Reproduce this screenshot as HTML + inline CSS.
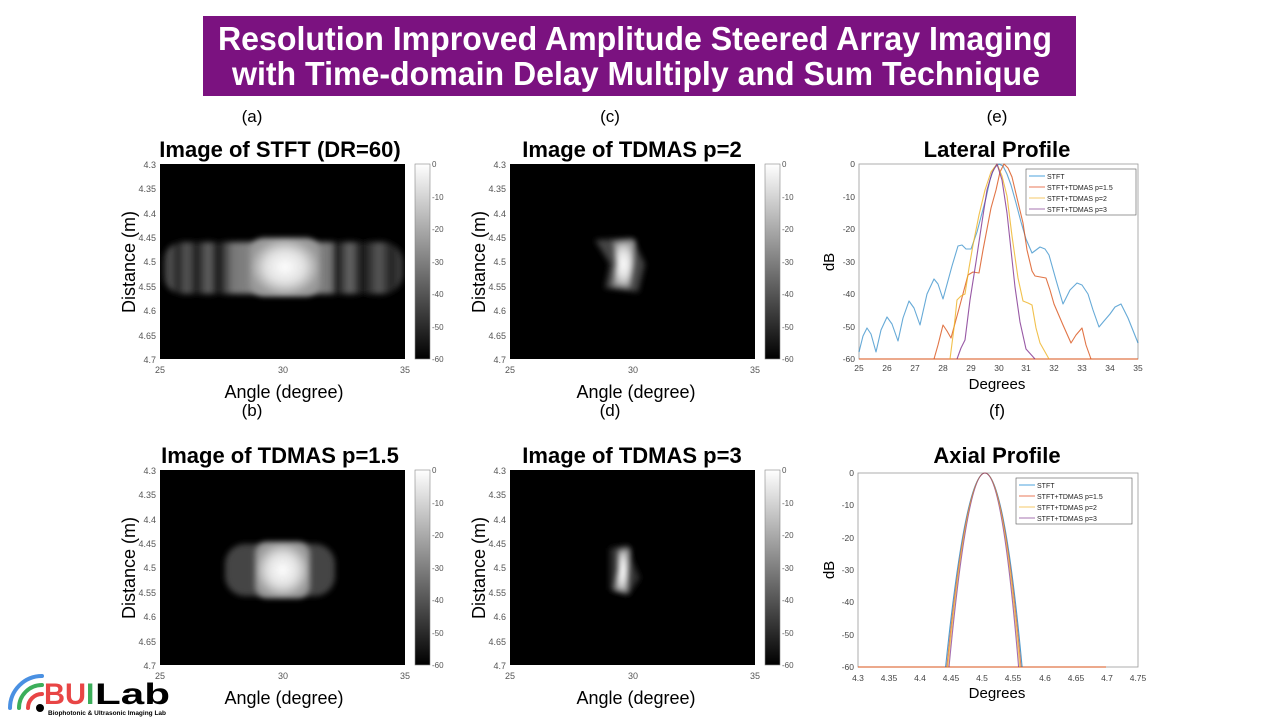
<!DOCTYPE html>
<html><head><meta charset="utf-8"><style>
html,body{margin:0;padding:0;background:#fff;width:1280px;height:720px;overflow:hidden}
svg{display:block}
</style></head><body>
<svg width="1280" height="720" viewBox="0 0 1280 720" xmlns="http://www.w3.org/2000/svg" font-family="Liberation Sans, sans-serif">
<defs>
<filter id="b3" x="-50%" y="-50%" width="200%" height="200%"><feGaussianBlur stdDeviation="3"/></filter>
<linearGradient id="cb" x1="0" y1="0" x2="0" y2="1"><stop offset="0" stop-color="#fff"/><stop offset="1" stop-color="#000"/></linearGradient>
<radialGradient id="core"><stop offset="0" stop-color="#fff"/><stop offset="0.55" stop-color="#e0e0e0"/><stop offset="1" stop-color="#999"/></radialGradient>
<linearGradient id="side" x1="0" y1="0" x2="1" y2="0">
<stop offset="0" stop-color="#222"/><stop offset="0.03" stop-color="#555"/><stop offset="0.06" stop-color="#222"/><stop offset="0.1" stop-color="#5a5a5a"/><stop offset="0.14" stop-color="#1a1a1a"/><stop offset="0.19" stop-color="#666"/><stop offset="0.23" stop-color="#111"/><stop offset="0.29" stop-color="#777"/><stop offset="0.5" stop-color="#999"/><stop offset="0.7" stop-color="#777"/><stop offset="0.72" stop-color="#111"/><stop offset="0.78" stop-color="#6a6a6a"/><stop offset="0.83" stop-color="#111"/><stop offset="0.9" stop-color="#5a5a5a"/><stop offset="0.95" stop-color="#222"/><stop offset="1" stop-color="#444"/></linearGradient>
</defs>
<!-- Banner -->
<rect x="203" y="16" width="873" height="80" fill="#7b1280"/>
<text x="635" y="50" text-anchor="middle" fill="#fff" font-size="33" font-weight="bold" textLength="834" lengthAdjust="spacingAndGlyphs">Resolution Improved  Amplitude Steered Array Imaging</text>
<text x="636" y="85" text-anchor="middle" fill="#fff" font-size="33" font-weight="bold" textLength="808" lengthAdjust="spacingAndGlyphs">with Time-domain Delay Multiply and Sum Technique</text>

<g font-size="17" fill="#000" text-anchor="middle">
<text x="252" y="122">(a)</text><text x="610" y="122">(c)</text><text x="997" y="122">(e)</text>
<text x="252" y="416">(b)</text><text x="610" y="416">(d)</text><text x="997" y="416">(f)</text>
</g>
<g font-size="22" font-weight="bold" text-anchor="middle" fill="#000">
<text x="280" y="157">Image of STFT (DR=60)</text>
<text x="632" y="157">Image of TDMAS p=2</text>
<text x="997" y="157">Lateral Profile</text>
<text x="280" y="463">Image of TDMAS p=1.5</text>
<text x="632" y="463">Image of TDMAS p=3</text>
<text x="997" y="463">Axial Profile</text>
</g>

<!-- image panels -->
<g>
<rect x="160" y="164" width="245" height="195" fill="#000"/>
<svg x="160" y="164" width="245" height="195" overflow="hidden">
<rect x="3" y="78" width="240" height="52" rx="20" fill="url(#side)" filter="url(#b3)"/>
<rect x="90" y="74" width="70" height="58" rx="14" fill="url(#core)" filter="url(#b3)"/>
</svg>
</g>
<g>
<rect x="160" y="470" width="245" height="195" fill="#000"/>
<svg x="160" y="470" width="245" height="195" overflow="hidden">
<rect x="65" y="74" width="110" height="52" rx="20" fill="#444" filter="url(#b3)"/>
<rect x="95" y="72" width="55" height="56" rx="12" fill="url(#core)" filter="url(#b3)"/>
</svg>
</g>
<g>
<rect x="510" y="164" width="245" height="195" fill="#000"/>
<svg x="510" y="164" width="245" height="195" overflow="hidden">
<polygon points="85,76 122,74 130,90 135,100 128,128 95,124 100,100" fill="#444" filter="url(#b3)"/>
<polygon points="103,78 125,76 124,100 120,124 102,122 106,100" fill="url(#core)" filter="url(#b3)"/>
</svg>
</g>
<g>
<rect x="510" y="470" width="245" height="195" fill="#000"/>
<svg x="510" y="470" width="245" height="195" overflow="hidden">
<polygon points="100,78 118,75 122,90 130,108 118,125 100,120" fill="#333" filter="url(#b3)"/>
<polygon points="108,80 120,78 119,100 118,123 104,120 108,100" fill="url(#core)" filter="url(#b3)"/>
</svg>
</g>

<g font-size="9" fill="#555" text-anchor="end">
<g id="yt1">
<text x="156" y="168">4.3</text><text x="156" y="192">4.35</text><text x="156" y="217">4.4</text><text x="156" y="241">4.45</text><text x="156" y="265">4.5</text><text x="156" y="290">4.55</text><text x="156" y="314">4.6</text><text x="156" y="339">4.65</text><text x="156" y="363">4.7</text>
</g>
<use href="#yt1" x="350"/><use href="#yt1" y="306"/><use href="#yt1" x="350" y="306"/>
</g>
<g font-size="9" fill="#555" text-anchor="middle" id="xt1">
<text x="160" y="373">25</text><text x="283" y="373">30</text><text x="405" y="373">35</text>
</g>
<use href="#xt1" x="350"/><use href="#xt1" y="306"/><use href="#xt1" x="350" y="306"/>

<g id="cbg">
<rect x="415" y="164" width="15" height="195" fill="url(#cb)" stroke="#888" stroke-width="0.6"/>
<g font-size="8" fill="#555"><text x="432" y="167">0</text><text x="432" y="200">-10</text><text x="432" y="232">-20</text><text x="432" y="265">-30</text><text x="432" y="297">-40</text><text x="432" y="330">-50</text><text x="432" y="362">-60</text></g>
</g>
<use href="#cbg" x="350"/><use href="#cbg" y="306"/><use href="#cbg" x="350" y="306"/>

<g font-size="18" fill="#000" text-anchor="middle">
<text x="284" y="398">Angle (degree)</text><text x="636" y="398">Angle (degree)</text>
<text x="284" y="704">Angle (degree)</text><text x="636" y="704">Angle (degree)</text>
<text transform="translate(135,262) rotate(-90)">Distance (m)</text>
<text transform="translate(485,262) rotate(-90)">Distance (m)</text>
<text transform="translate(135,568) rotate(-90)">Distance (m)</text>
<text transform="translate(485,568) rotate(-90)">Distance (m)</text>
</g>

<!-- Lateral profile -->
<rect x="859" y="164" width="279" height="195" fill="#fff" stroke="#999" stroke-width="0.8"/>
<g font-size="8.5" fill="#444" text-anchor="end">
<text x="855" y="167">0</text><text x="855" y="200">-10</text><text x="855" y="232">-20</text><text x="855" y="265">-30</text><text x="855" y="297">-40</text><text x="855" y="330">-50</text><text x="855" y="362">-60</text>
</g>
<g font-size="8.5" fill="#444" text-anchor="middle">
<text x="859" y="371">25</text><text x="887" y="371">26</text><text x="915" y="371">27</text><text x="943" y="371">28</text><text x="971" y="371">29</text><text x="999" y="371">30</text><text x="1026" y="371">31</text><text x="1054" y="371">32</text><text x="1082" y="371">33</text><text x="1110" y="371">34</text><text x="1138" y="371">35</text>
</g>
<g fill="none" stroke-width="1.1" stroke-linejoin="round">
<polyline stroke="#d95319" points="859,359 1138,359"/>
<polyline stroke="#0072bd" stroke-opacity="0.6" points="859,352 863,336 867,328 871,334 876,352 881,330 887,317 892,324 898,341 903,318 909,301 914,308 920,325 927,294 934,279 938,284 943,299 952,266 958,246 962,245 966,249 971,249 977,232 982,213 986,198 990,180 994,168 999,164 1003,166 1007,174 1011,185 1016,203 1021,222 1026,239 1032,253 1036,250 1040,247 1045,249 1049,255 1056,280 1063,304 1070,290 1077,283 1082,285 1088,294 1093,310 1099,327 1104,321 1110,314 1115,307 1121,304 1128,318 1138,343"/>
<polyline stroke="#d95319" stroke-opacity="0.8" points="934,359 938,345 943,325 947,331 951,338 960,305 968,275 973,272 979,273 983,250 987,229 991,208 996,190 1000,172 1004,164 1008,168 1012,177 1017,198 1023,223 1027,250 1032,271 1035,276 1046,278 1050,290 1054,304 1063,325 1071,343 1076,335 1082,328 1086,345 1091,359"/>
<polyline stroke="#edb120" stroke-opacity="0.8" points="950,359 954,328 957,300 961,296 965,294 969,268 973,245 979,215 985,190 991,172 997,164 1002,176 1007,196 1012,236 1018,278 1023,301 1028,303 1032,305 1036,328 1040,343 1049,359"/>
<polyline stroke="#7e2f8e" stroke-opacity="0.8" points="957,359 961,348 965,340 970,300 976,262 982,222 987,190 992,173 997,164 1002,180 1007,213 1011,250 1015,287 1020,322 1026,349 1035,359"/>
</g>
<rect x="1026" y="169" width="110" height="46" fill="#fff" stroke="#555" stroke-width="0.6"/>
<g font-size="7" fill="#222">
<line x1="1029" y1="176" x2="1045" y2="176" stroke="#4ca3dd"/><text x="1047" y="179">STFT</text>
<line x1="1029" y1="187" x2="1045" y2="187" stroke="#e8795a"/><text x="1047" y="190">STFT+TDMAS p=1.5</text>
<line x1="1029" y1="198" x2="1045" y2="198" stroke="#f5c96a"/><text x="1047" y="201">STFT+TDMAS p=2</text>
<line x1="1029" y1="209" x2="1045" y2="209" stroke="#a774b0"/><text x="1047" y="212">STFT+TDMAS p=3</text>
</g>
<text x="997" y="389" font-size="15" text-anchor="middle">Degrees</text>
<text transform="translate(834,262) rotate(-90)" font-size="15" text-anchor="middle">dB</text>

<!-- Axial profile -->
<rect x="858" y="473" width="280" height="194" fill="#fff" stroke="#999" stroke-width="0.8"/>
<g font-size="8.5" fill="#444" text-anchor="end">
<text x="854" y="476">0</text><text x="854" y="508">-10</text><text x="854" y="541">-20</text><text x="854" y="573">-30</text><text x="854" y="605">-40</text><text x="854" y="638">-50</text><text x="854" y="670">-60</text>
</g>
<g font-size="8.5" fill="#444" text-anchor="middle">
<text x="858" y="681">4.3</text><text x="889" y="681">4.35</text><text x="920" y="681">4.4</text><text x="951" y="681">4.45</text><text x="982" y="681">4.5</text><text x="1013" y="681">4.55</text><text x="1045" y="681">4.6</text><text x="1076" y="681">4.65</text><text x="1107" y="681">4.7</text><text x="1138" y="681">4.75</text>
</g>
<g fill="none" stroke-width="1.1">
<line x1="858" y1="667" x2="1106" y2="667" stroke="#d95319"/>
<path d="M945.6,667 Q986,279 1022.1,667" stroke="#0072bd" stroke-opacity="0.7"/>
<path d="M946.8,667 Q986,279 1021,667" stroke="#d95319" stroke-opacity="0.7"/>
<path d="M947.8,667 Q986,279 1019.8,667" stroke="#edb120" stroke-opacity="0.7"/>
<path d="M949,667 Q986,279 1018.6,667" stroke="#7e2f8e" stroke-opacity="0.7"/>
</g>
<rect x="1016" y="478" width="116" height="46" fill="#fff" stroke="#555" stroke-width="0.6"/>
<g font-size="7" fill="#222">
<line x1="1019" y1="485" x2="1035" y2="485" stroke="#4ca3dd"/><text x="1037" y="488">STFT</text>
<line x1="1019" y1="496" x2="1035" y2="496" stroke="#e8795a"/><text x="1037" y="499">STFT+TDMAS p=1.5</text>
<line x1="1019" y1="507" x2="1035" y2="507" stroke="#f5c96a"/><text x="1037" y="510">STFT+TDMAS p=2</text>
<line x1="1019" y1="518" x2="1035" y2="518" stroke="#a774b0"/><text x="1037" y="521">STFT+TDMAS p=3</text>
</g>
<text x="997" y="698" font-size="15" text-anchor="middle">Degrees</text>
<text transform="translate(834,570) rotate(-90)" font-size="15" text-anchor="middle">dB</text>

<!-- logo -->
<g fill="none" stroke-width="4" stroke-linecap="round">
<path d="M10,708 A32,32 0 0 1 42,676" stroke="#4a90e2"/>
<path d="M19,708 A23,23 0 0 1 42,685" stroke="#3cae5a"/>
<path d="M28,708 A14,14 0 0 1 42,694" stroke="#e84545"/>
</g>
<circle cx="40" cy="708" r="4" fill="#000"/>
<text x="44" y="704" font-size="30" font-weight="bold" fill="#e84545" textLength="42" lengthAdjust="spacingAndGlyphs">BU</text>
<text x="86" y="704" font-size="30" font-weight="bold" fill="#3cae5a">I</text>
<text x="95" y="704" font-size="30" font-weight="bold" fill="#000" textLength="75" lengthAdjust="spacingAndGlyphs">Lab</text>
<text x="48" y="715" font-size="6.5" font-weight="bold" fill="#000" textLength="118" lengthAdjust="spacingAndGlyphs">Biophotonic &amp; Ultrasonic Imaging Lab</text>
</svg>
</body></html>
